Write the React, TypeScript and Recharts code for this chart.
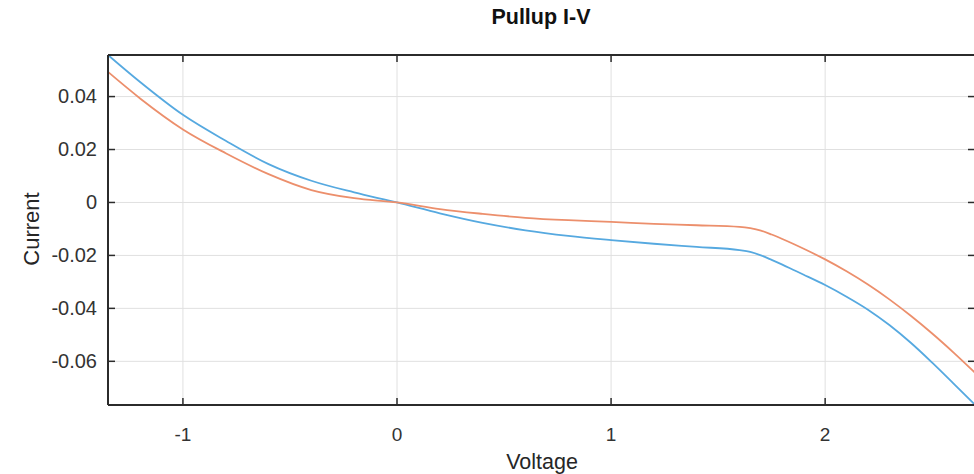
import { CartesianGrid, Line, LineChart, XAxis, YAxis } from "recharts";

// voltage sweep (V) and the two pullup currents (A)
const voltage = [
  -1.35, -1.2, -1.0, -0.8, -0.6, -0.4, -0.2, 0, 0.2, 0.4, 0.6, 0.8, 1.0, 1.2,
  1.4, 1.6, 1.65, 1.7, 1.75, 1.8, 1.85, 1.9, 2.0, 2.1, 2.2, 2.3, 2.4, 2.5, 2.6,
  2.7,
];
const currentBlue = [
  0.0557, 0.0455, 0.0331, 0.0233, 0.0145, 0.0082, 0.0038, 0, -0.0041, -0.0077,
  -0.0105, -0.0126, -0.0142, -0.0156, -0.0168, -0.018, -0.0187, -0.02, -0.0217,
  -0.0235, -0.0254, -0.0273, -0.0312, -0.0356, -0.0405, -0.0463, -0.053,
  -0.0605, -0.0684, -0.0764,
];
const currentOrange = [
  0.0493, 0.0393, 0.0276, 0.0186, 0.0107, 0.0047, 0.0016, 0, -0.0025, -0.0043,
  -0.0058, -0.0067, -0.0073, -0.0081, -0.0086, -0.0092, -0.0097, -0.0106,
  -0.0121, -0.0138, -0.0156, -0.0175, -0.0215, -0.026, -0.031, -0.0366,
  -0.0428, -0.0495, -0.0567, -0.0643,
];
const xTicks = [-1, 0, 1, 2];
const yTicks = [-0.06, -0.04, -0.02, 0, 0.02, 0.04];
const xDomain: [number, number] = [-1.35, 2.7];
const yDomain: [number, number] = [-0.0765, 0.0557];

const data = voltage.map((v, i) => ({
  v,
  blue: currentBlue[i],
  orange: currentOrange[i],
}));

const FONT = '"Liberation Sans", Arial, Helvetica, sans-serif';
const AXIS = "#2b2b2b";
const TICK_LEN = 7;

// chart box: 980x474, margins + axis sizes below give plot 108..975 x 55..405
const CHART_W = 980;
const CHART_H = 474;
const MARGIN = { top: 54, right: 4, bottom: 39, left: 0 };
const Y_AXIS_W = 108;
const X_AXIS_H = 30;
const PLOT_W = CHART_W - MARGIN.left - MARGIN.right - Y_AXIS_W - 1;
const PLOT_H = CHART_H - MARGIN.top - MARGIN.bottom - X_AXIS_H - 1;

// bottom label + inward ticks on both bottom and top edges
function BottomTick(props: any) {
  const { x, y, payload } = props;
  const top = y - PLOT_H;
  return (
    <g>
      <line x1={x} x2={x} y1={y} y2={y - TICK_LEN} stroke={AXIS} strokeWidth={1.5} />
      <line x1={x} x2={x} y1={top} y2={top + TICK_LEN} stroke={AXIS} strokeWidth={1.5} />
      <text
        x={x}
        y={y + 36}
        textAnchor="middle"
        fill="#333"
        fontSize={19}
        fontFamily={FONT}
      >
        {String(payload.value)}
      </text>
    </g>
  );
}

// left label + inward ticks on both left and right edges
function LeftTick(props: any) {
  const { x, y, payload } = props;
  const right = x + PLOT_W;
  return (
    <g>
      <line x1={x} x2={x + TICK_LEN} y1={y} y2={y} stroke={AXIS} strokeWidth={1.5} />
      <line x1={right} x2={right - TICK_LEN} y1={y} y2={y} stroke={AXIS} strokeWidth={1.5} />
      <text
        x={x - 11}
        y={y + 6.5}
        textAnchor="end"
        fill="#333"
        fontSize={20}
        fontFamily={FONT}
      >
        {String(payload.value)}
      </text>
    </g>
  );
}

export default function App() {
  return (
    <div
      style={{
        position: "fixed",
        left: 0,
        top: 0,
        width: 974,
        height: 474,
        overflow: "hidden",
        background: "#fff",
      }}
    >
      <LineChart width={CHART_W} height={CHART_H} data={data} margin={MARGIN}>
        <CartesianGrid stroke="#e0e0e0" strokeWidth={1} />
        <XAxis
          type="number"
          dataKey="v"
          domain={xDomain}
          ticks={xTicks}
          allowDataOverflow
          height={X_AXIS_H}
          tickSize={0}
          tickMargin={0}
          tick={<BottomTick />}
          axisLine={{ stroke: AXIS, strokeWidth: 2 }}
        />
        {/* top and right edges of the box */}
        <XAxis
          xAxisId="top"
          orientation="top"
          height={1}
          tick={false}
          tickLine={false}
          axisLine={{ stroke: AXIS, strokeWidth: 2 }}
        />
        <YAxis
          type="number"
          domain={yDomain}
          ticks={yTicks}
          allowDataOverflow
          width={Y_AXIS_W}
          tickSize={0}
          tickMargin={0}
          tick={<LeftTick />}
          axisLine={{ stroke: AXIS, strokeWidth: 2 }}
        />
        <YAxis
          yAxisId="right"
          orientation="right"
          width={1}
          tick={false}
          tickLine={false}
          axisLine={{ stroke: AXIS, strokeWidth: 2 }}
        />
        <Line
          type="monotone"
          dataKey="blue"
          stroke="#56a9e0"
          strokeWidth={1.8}
          dot={false}
          isAnimationActive={false}
        />
        <Line
          type="monotone"
          dataKey="orange"
          stroke="#ec8f6c"
          strokeWidth={1.8}
          dot={false}
          isAnimationActive={false}
        />
      </LineChart>
      <svg
        width={974}
        height={474}
        style={{ position: "absolute", left: 0, top: 0, pointerEvents: "none" }}
      >
        <text
          x={541}
          y={24}
          textAnchor="middle"
          fontFamily={FONT}
          fontWeight="bold"
          fontSize={21.5}
          fill="#111"
        >
          Pullup I-V
        </text>
        <text
          x={542}
          y={469}
          textAnchor="middle"
          fontFamily={FONT}
          fontSize={21.5}
          fill="#262626"
        >
          Voltage
        </text>
        <text
          x={39}
          y={229}
          textAnchor="middle"
          fontFamily={FONT}
          fontSize={22}
          fill="#262626"
          transform="rotate(-90 39 229)"
        >
          Current
        </text>
      </svg>
    </div>
  );
}
